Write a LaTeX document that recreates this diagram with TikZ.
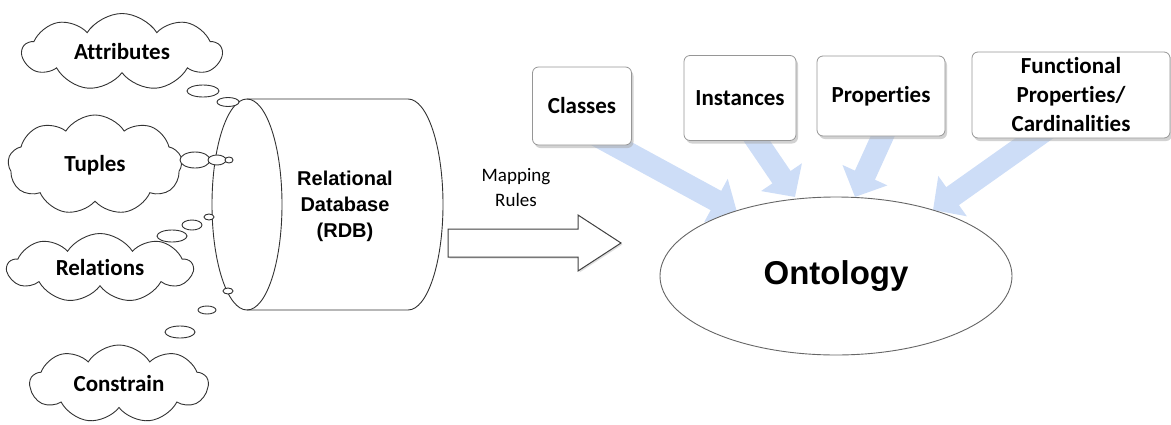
\documentclass[tikz,border=0pt]{standalone}
\usepackage{fontspec}
\setmainfont{Carlito}[Ligatures=NoCommon]
\newfontfamily\arialfont{Liberation Sans}
\usetikzlibrary{shapes.symbols,shapes.geometric,shadows,arrows.meta,calc,backgrounds}
\definecolor{arrowblue}{RGB}{205,221,247}
\definecolor{boxline}{RGB}{150,150,150}
\begin{document}
\begin{tikzpicture}[x=1pt,y=-1pt,
 cloudnode/.style={cloud, cloud puffs=9, cloud puff arc=115, cloud ignores aspect, draw=black!80, line width=0.9pt, fill=white, font=\fontsize{23}{28}\selectfont\bfseries, inner sep=0pt},
 bubble/.style={draw=black!80, line width=0.9pt, fill=white},
 conceptbox/.style={draw=boxline, line width=0.8pt, rounded corners=6pt, fill=white, drop shadow={shadow xshift=2pt, shadow yshift=-3pt, fill=black!35}, font=\fontsize{23}{29}\selectfont\bfseries, align=center, inner sep=2pt},
 feed/.style={draw=arrowblue, line width=22pt, -{Triangle[length=24pt,width=48pt]}},
]
\useasboundingbox (0,0) rectangle (1171,424);

% clouds
\node[cloudnode, minimum width=199pt, minimum height=77pt] (attr) at (122,52) {Attributes};
\node[cloudnode, minimum width=174pt, minimum height=100pt] (tup) at (95,165) {Tuples};
\node[cloudnode, minimum width=185pt, minimum height=69pt] (rel) at (100,268) {Relations};
\node[cloudnode, minimum width=178pt, minimum height=78pt] (con) at (119,384) {Constrain};

% cylinder
\draw[line width=0.9pt, draw=black!80, fill=white] (247,99) -- (408,99)
  arc[start angle=-90, end angle=90, x radius=35, y radius=105.5] -- (247,310)
  arc[start angle=90, end angle=270, x radius=35, y radius=105.5] -- cycle;
\draw[line width=0.9pt, draw=black!80] (247,99) arc[start angle=-90, end angle=90, x radius=35, y radius=105.5];
\node[font=\arialfont\bfseries\fontsize{20}{26}\selectfont, align=center] (rdb) at (345,206) {Relational\\Database\\(RDB)};

% thought bubbles
\draw[bubble] (203,91) ellipse [x radius=16, y radius=6];
\draw[bubble] (228,102) ellipse [x radius=11, y radius=4.5];
\draw[bubble] (195,160) ellipse [x radius=15, y radius=8];
\draw[bubble] (217,160) ellipse [x radius=9, y radius=5];
\draw[bubble] (229,160) ellipse [x radius=4, y radius=3];
\draw[bubble] (172,236) ellipse [x radius=15, y radius=6];
\draw[bubble] (192,225) ellipse [x radius=10, y radius=5];
\draw[bubble] (209,217) ellipse [x radius=5, y radius=3];
\draw[bubble] (228,291) ellipse [x radius=5, y radius=3];
\draw[bubble] (207,310) ellipse [x radius=9, y radius=4];
\draw[bubble] (180,332) ellipse [x radius=15, y radius=6];

% mapping arrow
\node[font=\fontsize{19}{25}\selectfont, align=center] (maplabel) at (516,188) {Mapping\\Rules};
\draw[line width=1pt, draw=black!75, fill=white, drop shadow={shadow xshift=1.5pt, shadow yshift=-1.5pt, fill=black!25}]
  (448,229) -- (578,229) -- (578,215) -- (621,243) -- (578,271) -- (578,257) -- (448,257) -- cycle;

% ontology
\node[ellipse, draw=black!60, line width=0.9pt, fill=white, minimum width=352pt, minimum height=158pt, font=\arialfont\bfseries\fontsize{33}{40}\selectfont] (onto) at (836,276) {Ontology};

% concept boxes
\node[conceptbox, minimum width=99pt, minimum height=78pt] (classes) at (582,106) {Classes};
\node[conceptbox, minimum width=112pt, minimum height=85pt] (inst) at (740,98) {Instances};
\node[conceptbox, minimum width=128pt, minimum height=80pt] (props) at (881,96) {Properties};
\node[conceptbox, minimum width=198pt, minimum height=86pt] (func) at (1071,95) {Functional\\Properties/\\Cardinalities};

% feeding arrows
\coordinate (tipC) at (737,212);
\coordinate (tipI) at (795,197);
\coordinate (tipP) at (855,197);
\coordinate (tipF) at (933,210);
\begin{scope}[on background layer]
\draw[feed] ($(classes.center)+(8,26)$) -- (tipC);
\draw[feed] ($(inst.center)+(6,27)$) -- (tipI);
\draw[feed] ($(props.center)+(9,24)$) -- (tipP);
\draw[feed] ($(func.center)+(-18,30)$) -- (tipF);
\end{scope}
\end{tikzpicture}
\end{document}
